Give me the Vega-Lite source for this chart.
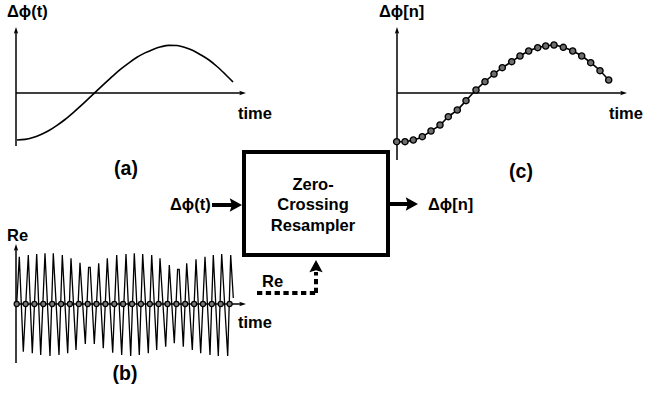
{
  "$schema": "https://vega.github.io/schema/vega-lite/v6.json",
  "width": 652,
  "height": 395,
  "autosize": {"type": "fit", "contains": "padding"},
  "padding": 0,
  "background": "white",
  "config": {"view": {"stroke": null}},
  "datasets": {
    "axes": [
      {"x": 16, "y": 146, "x2": 16, "y2": 31},
      {"x": 16, "y": 93, "x2": 242, "y2": 93},
      {"x": 397, "y": 160, "x2": 397, "y2": 31},
      {"x": 397, "y": 93, "x2": 623, "y2": 93},
      {"x": 16, "y": 363, "x2": 16, "y2": 248},
      {"x": 16, "y": 304, "x2": 242, "y2": 304}
    ],
    "upHeadsSmall": [{"x": 16, "y": 31}, {"x": 397, "y": 31}, {"x": 16, "y": 248}],
    "rightHeadsSmall": [{"x": 242, "y": 93}, {"x": 623, "y": 93}, {"x": 242, "y": 304}],
    "thick": [
      {"x": 212, "y": 205, "x2": 236, "y2": 205},
      {"x": 388, "y": 204, "x2": 412, "y2": 204}
    ],
    "rightHeadsBig": [{"x": 235, "y": 205}, {"x": 411, "y": 204}],
    "dotted": [
      {"x": 257, "y": 293, "x2": 316, "y2": 293},
      {"x": 316, "y": 293, "x2": 316, "y2": 272}
    ],
    "upHeadsBig": [{"x": 316, "y": 267}],
    "box": [{"x": 244, "y": 152, "x2": 388, "y2": 255}],
    "curveA": [
      {"x": 17, "y": 140}, {"x": 25, "y": 139.4}, {"x": 33, "y": 137.5}, {"x": 41, "y": 134.5},
      {"x": 49, "y": 130.5}, {"x": 57, "y": 125.4}, {"x": 65, "y": 119.5}, {"x": 73, "y": 112.8},
      {"x": 81, "y": 105.7}, {"x": 89, "y": 98.2}, {"x": 97, "y": 90.6}, {"x": 105, "y": 83.1},
      {"x": 113, "y": 75.8}, {"x": 121, "y": 68.9}, {"x": 129, "y": 62.8}, {"x": 137, "y": 57.3},
      {"x": 145, "y": 52.9}, {"x": 153, "y": 49.4}, {"x": 161, "y": 46.8}, {"x": 169, "y": 45.4},
      {"x": 177, "y": 45.5}, {"x": 185, "y": 47.5}, {"x": 193, "y": 50.5}, {"x": 201, "y": 55},
      {"x": 209, "y": 60}, {"x": 217, "y": 66.5}, {"x": 225, "y": 74}, {"x": 233, "y": 82}
    ],
    "curveC": [
      {"x": 396.7, "y": 141.7}, {"x": 405, "y": 141.7}, {"x": 413.3, "y": 140}, {"x": 422.3, "y": 136.7},
      {"x": 431, "y": 131}, {"x": 440, "y": 125}, {"x": 448.3, "y": 116.7}, {"x": 457.3, "y": 110},
      {"x": 466, "y": 100.7}, {"x": 476, "y": 90}, {"x": 485, "y": 81.7}, {"x": 494, "y": 74},
      {"x": 502.3, "y": 67.7}, {"x": 511.7, "y": 61.7}, {"x": 520, "y": 56}, {"x": 528.7, "y": 51},
      {"x": 537.7, "y": 47.7}, {"x": 545.7, "y": 46}, {"x": 554, "y": 45}, {"x": 563.3, "y": 47.3},
      {"x": 572.7, "y": 51}, {"x": 581.7, "y": 56}, {"x": 590.7, "y": 62.7}, {"x": 600, "y": 70.7},
      {"x": 608.7, "y": 80}
    ],
    "wave": [
      {"x": 16.7, "y": 304}, {"x": 19.3, "y": 256.7}, {"x": 23.3, "y": 351.7}, {"x": 28.3, "y": 255},
      {"x": 32.3, "y": 353.3}, {"x": 36.7, "y": 254}, {"x": 40.7, "y": 355}, {"x": 45, "y": 253.3},
      {"x": 50, "y": 356}, {"x": 53.3, "y": 253.3}, {"x": 59, "y": 355}, {"x": 62.3, "y": 255},
      {"x": 67.7, "y": 353.3}, {"x": 71, "y": 258.3}, {"x": 76, "y": 350}, {"x": 80, "y": 262.7},
      {"x": 85.3, "y": 344}, {"x": 88.6, "y": 267.3}, {"x": 90.2, "y": 267.3}, {"x": 94.3, "y": 344},
      {"x": 98.7, "y": 263.3}, {"x": 103.3, "y": 348.3}, {"x": 107.3, "y": 258.3}, {"x": 112.7, "y": 352.7},
      {"x": 116.7, "y": 255}, {"x": 121.7, "y": 355}, {"x": 126, "y": 254}, {"x": 130.7, "y": 356},
      {"x": 134.3, "y": 253.3}, {"x": 139.3, "y": 355}, {"x": 142.7, "y": 254}, {"x": 148.3, "y": 353.3},
      {"x": 151.7, "y": 255}, {"x": 156.7, "y": 350}, {"x": 160, "y": 258.3}, {"x": 165.7, "y": 346.7},
      {"x": 169.3, "y": 265}, {"x": 174.3, "y": 343.3}, {"x": 177.6, "y": 269.3}, {"x": 179.2, "y": 269.3},
      {"x": 183.3, "y": 346.7}, {"x": 186.7, "y": 263.3}, {"x": 192.3, "y": 350}, {"x": 196, "y": 259.3},
      {"x": 200.7, "y": 353.3}, {"x": 205, "y": 256.7}, {"x": 210, "y": 355}, {"x": 213.3, "y": 255},
      {"x": 218.3, "y": 356}, {"x": 221.7, "y": 254}, {"x": 227.7, "y": 356}, {"x": 230.7, "y": 255},
      {"x": 233.3, "y": 298}
    ],
    "waveDots": [
      {"x": 16.7, "y": 304}, {"x": 25.6, "y": 304}, {"x": 34.4, "y": 304}, {"x": 43.3, "y": 304},
      {"x": 52.2, "y": 304}, {"x": 61.1, "y": 304}, {"x": 69.9, "y": 304}, {"x": 78.8, "y": 304},
      {"x": 87.7, "y": 304}, {"x": 96.5, "y": 304}, {"x": 105.4, "y": 304}, {"x": 114.3, "y": 304},
      {"x": 123.1, "y": 304}, {"x": 132, "y": 304}, {"x": 140.9, "y": 304}, {"x": 149.8, "y": 304},
      {"x": 158.6, "y": 304}, {"x": 167.5, "y": 304}, {"x": 176.4, "y": 304}, {"x": 185.2, "y": 304},
      {"x": 194.1, "y": 304}, {"x": 203, "y": 304}, {"x": 211.8, "y": 304}, {"x": 220.7, "y": 304},
      {"x": 229.6, "y": 304}
    ],
    "labels": [
      {"x": 7, "y": 17, "label": "Δϕ(t)"},
      {"x": 379, "y": 17, "label": "Δϕ[n]"},
      {"x": 238, "y": 119, "label": "time"},
      {"x": 609, "y": 119, "label": "time"},
      {"x": 238, "y": 328, "label": "time"},
      {"x": 7, "y": 241, "label": "Re"},
      {"x": 262, "y": 287, "label": "Re"},
      {"x": 170, "y": 210, "label": "Δϕ(t)"},
      {"x": 428, "y": 210, "label": "Δϕ[n]"}
    ],
    "boxText": [
      {"x": 313, "y": 190, "label": "Zero-"},
      {"x": 313, "y": 210, "label": "Crossing"},
      {"x": 313, "y": 231, "label": "Resampler"}
    ],
    "panelLabels": [
      {"x": 126, "y": 175, "label": "(a)"},
      {"x": 125, "y": 380, "label": "(b)"},
      {"x": 521, "y": 178, "label": "(c)"}
    ]
  },
  "encoding": {
    "x": {"field": "x", "type": "quantitative", "scale": {"domain": [0, 652], "nice": false, "zero": false}, "axis": null},
    "y": {"field": "y", "type": "quantitative", "scale": {"domain": [0, 395], "nice": false, "zero": false, "reverse": true}, "axis": null}
  },
  "layer": [
    {
      "data": {"name": "axes"},
      "mark": {"type": "rule", "color": "black", "strokeWidth": 1.5},
      "encoding": {"x2": {"field": "x2"}, "y2": {"field": "y2"}}
    },
    {
      "data": {"name": "upHeadsSmall"},
      "mark": {"type": "point", "shape": "M0,-1L0.55,0.7L0,0.35L-0.55,0.7Z", "filled": true, "color": "black", "opacity": 1, "size": 64, "angle": 0},
      "encoding": {}
    },
    {
      "data": {"name": "rightHeadsSmall"},
      "mark": {"type": "point", "shape": "M0,-1L0.55,0.7L0,0.35L-0.55,0.7Z", "filled": true, "color": "black", "opacity": 1, "size": 64, "angle": 90},
      "encoding": {}
    },
    {
      "data": {"name": "curveA"},
      "mark": {"type": "line", "color": "black", "strokeWidth": 1.6, "interpolate": "monotone"},
      "encoding": {}
    },
    {
      "data": {"name": "curveC"},
      "mark": {"type": "line", "color": "black", "strokeWidth": 1.6, "interpolate": "monotone"},
      "encoding": {}
    },
    {
      "data": {"name": "curveC"},
      "mark": {"type": "point", "filled": true, "fill": "#6e6e6e", "stroke": "#000000", "strokeWidth": 1.4, "opacity": 1, "size": 38},
      "encoding": {}
    },
    {
      "data": {"name": "wave"},
      "mark": {"type": "line", "color": "black", "strokeWidth": 1.3, "interpolate": "linear"},
      "encoding": {}
    },
    {
      "data": {"name": "waveDots"},
      "mark": {"type": "point", "filled": true, "fill": "#777777", "stroke": "#000000", "strokeWidth": 1.2, "opacity": 1, "size": 26},
      "encoding": {}
    },
    {
      "data": {"name": "box"},
      "mark": {"type": "rect", "fill": "white", "stroke": "black", "strokeWidth": 4},
      "encoding": {"x2": {"field": "x2"}, "y2": {"field": "y2"}}
    },
    {
      "data": {"name": "thick"},
      "mark": {"type": "rule", "color": "black", "strokeWidth": 4},
      "encoding": {"x2": {"field": "x2"}, "y2": {"field": "y2"}}
    },
    {
      "data": {"name": "rightHeadsBig"},
      "mark": {"type": "point", "shape": "M0,-1L0.95,0.75L0,0.45L-0.95,0.75Z", "filled": true, "color": "black", "opacity": 1, "size": 196, "angle": 90},
      "encoding": {}
    },
    {
      "data": {"name": "dotted"},
      "mark": {"type": "rule", "color": "black", "strokeWidth": 4, "strokeDash": [5.3, 3.5]},
      "encoding": {"x2": {"field": "x2"}, "y2": {"field": "y2"}}
    },
    {
      "data": {"name": "upHeadsBig"},
      "mark": {"type": "point", "shape": "M0,-1L0.95,0.75L0,0.45L-0.95,0.75Z", "filled": true, "color": "black", "opacity": 1, "size": 196, "angle": 0},
      "encoding": {}
    },
    {
      "data": {"name": "labels"},
      "mark": {"type": "text", "align": "left", "baseline": "alphabetic", "font": "Liberation Sans", "fontWeight": "bold", "fontSize": 16.5, "color": "black"},
      "encoding": {"text": {"field": "label"}}
    },
    {
      "data": {"name": "boxText"},
      "mark": {"type": "text", "align": "center", "baseline": "alphabetic", "font": "Liberation Sans", "fontWeight": "bold", "fontSize": 16.5, "color": "black"},
      "encoding": {"text": {"field": "label"}}
    },
    {
      "data": {"name": "panelLabels"},
      "mark": {"type": "text", "align": "center", "baseline": "alphabetic", "font": "Liberation Sans", "fontWeight": "bold", "fontSize": 19.5, "color": "black"},
      "encoding": {"text": {"field": "label"}}
    }
  ]
}
